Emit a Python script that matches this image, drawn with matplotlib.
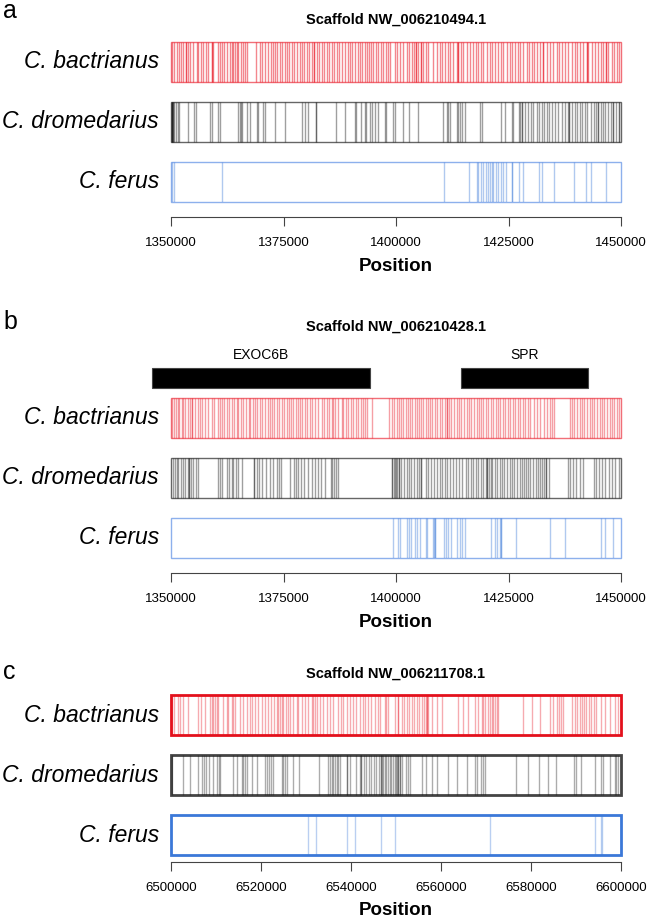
import matplotlib.pyplot as plt
from matplotlib.patches import Rectangle
from matplotlib.transforms import blended_transform_factory

plt.rcParams['font.family'] = ['Liberation Sans', 'DejaVu Sans']

species = ["C. bactrianus", "C. dromedarius", "C. ferus"]
panel_letters = ["a", "b", "c"]
scaffolds = ["Scaffold NW_006210494.1", "Scaffold NW_006210428.1", "Scaffold NW_006211708.1"]
ranges = [(1350000, 1450000), (1350000, 1450000), (6500000, 6600000)]
ticks_ab = [1350000, 1375000, 1400000, 1425000, 1450000]
ticks_c = [6500000, 6520000, 6540000, 6560000, 6580000, 6600000]

# SNP positions, panel a
a_bactrianus = [
    1350300, 1350740, 1351260, 1351780, 1352220, 1352740, 1353260, 1353260, 1353700, 1354220,
    1354960, 1355700, 1356070, 1356590, 1357180, 1357700, 1358150, 1359040, 1359040, 1359410,
    1360520, 1360890, 1361410, 1361850, 1362370, 1363110, 1363480, 1363850, 1364220, 1364590,
    1364960, 1365560, 1366070, 1366440, 1366810, 1368810, 1369780, 1370300, 1370890, 1371630,
    1372220, 1372740, 1373110, 1373480, 1374220, 1374590, 1375330, 1375700, 1376220, 1376810,
    1377410, 1377930, 1378670, 1379190, 1379630, 1380150, 1380670, 1381260, 1381850, 1381850,
    1382370, 1382890, 1383480, 1384070, 1384590, 1385110, 1385700, 1386300, 1386810, 1387330,
    1387930, 1388670, 1389260, 1389780, 1390300, 1390890, 1391480, 1392000, 1392520, 1393110,
    1393480, 1394000, 1394440, 1394960, 1395480, 1396070, 1396670, 1397180, 1397700, 1398150,
    1398670, 1399780, 1400150, 1400890, 1401630, 1402370, 1402890, 1403480, 1404070, 1404370,
    1404370, 1404960, 1405560, 1405560, 1406070, 1406590, 1407190, 1408300, 1409040, 1409780,
    1410300, 1410890, 1411480, 1412000, 1412740, 1413480, 1413850, 1413850, 1414440, 1414960,
    1415700, 1416440, 1417190, 1417700, 1418300, 1418890, 1419410, 1420150, 1420890, 1421410,
    1422000, 1422740, 1423330, 1423850, 1424590, 1425330, 1425850, 1426440, 1427040, 1427560,
    1428300, 1429040, 1429560, 1430150, 1430740, 1431260, 1432000, 1432740, 1432740, 1433480,
    1434220, 1434960, 1435700, 1436220, 1436810, 1437560, 1438300, 1439040, 1439780, 1440150,
    1440890, 1441630, 1442370, 1442370, 1442740, 1443480, 1444220, 1444960, 1445560, 1446070,
    1446590, 1446590, 1447190, 1447930, 1448520, 1449040, 1449560,
]
a_dromedarius = [
    1350150, 1350150, 1350300, 1350300, 1350520, 1350520, 1350740, 1351040, 1351480, 1351780,
    1353850, 1355180, 1355480, 1358660, 1359180, 1360510, 1360880, 1364950, 1365240, 1365540,
    1365840, 1366800, 1367540, 1369020, 1369390, 1370500, 1370870, 1373090, 1375310, 1379010,
    1379750, 1380340, 1382120, 1382120, 1386560, 1388630, 1390850, 1391220, 1392330, 1393070,
    1393440, 1394180, 1394700, 1395290, 1396030, 1397510, 1397880, 1399360, 1399730,
    1401630, 1402890, 1404810, 1410510, 1411250, 1411620, 1411990, 1413470, 1413840, 1414210,
    1414580, 1415320, 1418650, 1419170, 1423310, 1424200, 1425680, 1426050, 1427310, 1427530,
    1427900, 1427900, 1428640, 1429380, 1429970, 1430490, 1431230, 1431750, 1432340, 1432930,
    1433450, 1433970, 1434560, 1435300, 1436040, 1436780, 1437520, 1438260, 1438410, 1438410,
    1439000, 1439740, 1440330, 1440850, 1441370, 1441960, 1442550, 1443290, 1444030, 1444550,
    1444920, 1444920, 1445510, 1446030, 1446550, 1447140, 1447880, 1448250, 1448250, 1448990,
    1449510, 1449510,
]
a_ferus = [
    1350300, 1350740, 1361250, 1410740, 1416220, 1417920, 1418280, 1418870, 1419390, 1419910,
    1420350, 1420870, 1421240, 1421610, 1422130, 1422720, 1423310, 1423830, 1424350, 1425830,
    1425830, 1427310, 1428270, 1431750, 1432340, 1435150, 1439590, 1442330, 1443440, 1446770,
]

# SNP positions, panel b
b_bactrianus = [
    1350300, 1350740, 1351110, 1351480, 1351850, 1352370, 1352740, 1353110, 1353700, 1354220,
    1354590, 1354740, 1355330, 1355920, 1356440, 1356960, 1357550, 1358290, 1359030, 1359620,
    1360360, 1360880, 1361250, 1361840, 1362360, 1362880, 1363470, 1364060, 1364580, 1364950,
    1365540, 1366060, 1366580, 1367320, 1367540, 1368280, 1368650, 1369020, 1369760, 1370280,
    1370870, 1371460, 1371980, 1372500, 1372940, 1373460, 1373980, 1374570, 1375160, 1375680,
    1376200, 1376640, 1377160, 1377680, 1378120, 1378640, 1379160, 1379750, 1380270, 1380860,
    1381380, 1381970, 1382710, 1383450, 1384040, 1384560, 1385080, 1385670, 1386040, 1386410,
    1387150, 1387890, 1388260, 1388780, 1389370, 1389960, 1390480, 1391000, 1391590, 1392330,
    1392700, 1393070, 1393660, 1394700, 1398400, 1399170, 1399540, 1400130, 1400650, 1401020,
    1401610, 1402130, 1402650, 1403090, 1403610, 1404130, 1404570, 1405090, 1405610, 1406050,
    1406570, 1407090, 1407530, 1408050, 1408570, 1409160, 1409750, 1410270, 1410790, 1411230,
    1411230, 1411750, 1412270, 1412860, 1413450, 1413970, 1414490, 1415080, 1415670, 1416190,
    1416710, 1417300, 1417890, 1418410, 1418930, 1419370, 1419890, 1420410, 1421000, 1421590,
    1422330, 1422630, 1423220, 1423810, 1424330, 1424850, 1425440, 1426030, 1426550, 1427070,
    1427660, 1428250, 1428770, 1429290, 1429880, 1430620, 1431360, 1432100, 1432840, 1433580,
    1434170, 1434690, 1435210, 1438610, 1439130, 1439650, 1440240, 1440830, 1441350, 1441870,
    1442460, 1443050, 1443570, 1444090, 1444680, 1445270, 1445790, 1446310, 1446900, 1447490,
    1448010, 1448530, 1449120, 1449490,
]
b_dromedarius = [
    1350520, 1350890, 1351260, 1351630, 1352220, 1352740, 1353110, 1353700, 1354000, 1354000,
    1354440, 1354960, 1355480, 1355920, 1360360, 1360880, 1361250, 1362360, 1362880, 1363470,
    1363840, 1364360, 1364950, 1365690, 1368500, 1368500, 1369020, 1369540, 1370130, 1371020,
    1371980, 1372720, 1373460, 1373980, 1374420, 1376420, 1377380, 1377680, 1378270, 1378860,
    1379600, 1380490, 1381380, 1381970, 1382710, 1383300, 1384190, 1385520, 1385820, 1386260,
    1386560, 1387150, 1399140, 1399580, 1400100, 1400620, 1399170, 1399690, 1400130, 1400650,
    1401170, 1401760, 1402350, 1402870, 1403390, 1403980, 1404570, 1405090, 1405610, 1405610,
    1406570, 1407090, 1407680, 1408420, 1409160, 1409750, 1410270, 1410790, 1411380, 1411970,
    1412710, 1413230, 1413970, 1414710, 1415450, 1415970, 1416560, 1417150, 1417670, 1418190,
    1418780, 1419370, 1419890, 1420260, 1420260, 1420630, 1421000, 1421370, 1421890, 1422480,
    1423070, 1423590, 1424110, 1424700, 1425290, 1425810, 1426330, 1426920, 1427510, 1428030,
    1428400, 1428990, 1429290, 1429880, 1430470, 1431060, 1431510, 1432100, 1432470, 1432990,
    1433430, 1433430, 1433950, 1438170, 1438760, 1439350, 1440090, 1440830, 1441570, 1444090,
    1444530, 1445050, 1445790, 1446530, 1447270, 1448010, 1448750, 1449490,
]
b_ferus = [
    1399390, 1400430, 1400840, 1402500, 1402870, 1403390, 1404130, 1404720, 1405310, 1406570,
    1406940, 1408270, 1408420, 1408570, 1408570, 1410640, 1411010, 1411530, 1412120, 1413600,
    1414190, 1414710, 1415230, 1421000, 1422110, 1422480, 1423220, 1423370, 1423370, 1426770,
    1434320, 1437650, 1445570, 1446530, 1448230,
]
genes_b = ["EXOC6B", "SPR"]
gene_start_b = [1345700, 1414400]
gene_end_b = [1394200, 1442700]

# SNP positions, panel c
c_bactrianus = [
    6500300, 6500740, 6501480, 6502000, 6502740, 6503850, 6506070, 6506660, 6507550, 6508660,
    6509030, 6509400, 6509770, 6510140, 6510510, 6511620, 6512360, 6512730, 6513470, 6513840,
    6514210, 6515320, 6516060, 6516800, 6517540, 6518060, 6518650, 6519390, 6520130, 6520870,
    6521610, 6522200, 6522940, 6523460, 6523830, 6524200, 6524570, 6524940, 6525460, 6525900,
    6526420, 6527160, 6527900, 6528270, 6529010, 6529750, 6530490, 6531230, 6531600, 6531970,
    6532340, 6533080, 6533820, 6534560, 6535300, 6536040, 6537150, 6537740, 6538260, 6539000,
    6539740, 6540480, 6541220, 6541960, 6542700, 6543070, 6543810, 6544550, 6545290, 6546030,
    6546400, 6547510, 6547880, 6548250, 6549730, 6550470, 6550520, 6551260, 6551850, 6552370,
    6552890, 6553480, 6554070, 6554590, 6555110, 6555700, 6556290, 6556590, 6556810, 6556810,
    6557180, 6557920, 6559030, 6560140, 6563840, 6564950, 6566060, 6567540, 6568280, 6569020,
    6569390, 6569760, 6570500, 6570870, 6571240, 6571610, 6571980, 6572350, 6572720, 6578270,
    6580120, 6581970, 6584190, 6584930, 6585670, 6586190, 6586630, 6587150, 6589000, 6589740,
    6590330, 6590850, 6591370, 6591810, 6592330, 6592850, 6593440, 6594030, 6594550, 6595660,
    6596550, 6597510, 6598620, 6599360,
]
c_dromedarius = [
    6500300, 6502740, 6504220, 6506070, 6506960, 6507400, 6507700, 6508440, 6509400, 6510140,
    6510660, 6510880, 6513840, 6514580, 6515840, 6516060, 6516430, 6516800, 6518060, 6519020,
    6520870, 6521240, 6521760, 6522200, 6522720, 6524570, 6524940, 6525310, 6525680, 6527160,
    6528420, 6532860, 6534930, 6535300, 6535670, 6536040, 6536410, 6536780, 6537150, 6537520,
    6539000, 6539220, 6539740, 6541220, 6541960, 6542330, 6542330, 6542920, 6543440, 6543960,
    6544550, 6545140, 6545660, 6546180, 6546620, 6546620, 6546920, 6547140, 6547510, 6547880,
    6548250, 6548620, 6548990, 6549360, 6549730, 6550100, 6550470, 6550840, 6550150, 6550520,
    6550890, 6551410, 6552150, 6552590, 6553110, 6555700, 6556590, 6557920, 6559030, 6561620,
    6563470, 6565690, 6567540, 6567910, 6568870, 6569390, 6569760, 6576570, 6579230, 6581750,
    6583670, 6585450, 6589590, 6590110, 6591220, 6594180, 6595660, 6596030, 6597510, 6598620,
    6598990, 6599360,
]
c_ferus = [
    6530340, 6532120, 6539000, 6540850, 6546620, 6549880, 6570870, 6594180, 6595660, 6595810,
]

W, H = 647, 919
X0, X1 = 171, 621
fig = plt.figure(figsize=(W / 100, H / 100), dpi=100)


def fy(px):
    return 1 - px / H


def draw_panel(i, top, snps, ticks, axis_off, frame_lw, frame_cols, alphas, genes=None):
    lo, hi = ranges[i]
    extra = 30 if genes else 0
    height = 160 + extra
    ax = fig.add_axes([X0 / W, fy(top + height), (X1 - X0) / W, height / H])
    ax.set_xlim(lo, hi)
    ax.set_ylim(0, height)
    line_cols = ['#E8101E', '#111111', '#3A78D8']
    rows = [120, 60, 0]
    tr = blended_transform_factory(fig.transFigure, ax.transData)
    for name, pos, y0, lc, al, fc in zip(species, snps, rows, line_cols, alphas, frame_cols):
        ax.vlines(pos, y0, y0 + 40, colors=lc, alpha=al, lw=1.0)
        ax.add_patch(Rectangle((lo, y0), hi - lo, 40, fill=False, ec=fc,
                               lw=frame_lw, clip_on=False))
        ax.text(159 / W, y0 + 20, name, transform=tr, ha='right', va='center',
                fontsize=16.5, style='italic')
    if genes:
        names, starts, ends = genes
        for g, s, e in zip(names, starts, ends):
            ax.add_patch(Rectangle((s, 170), e - s, 20, fc='black', ec='#444444',
                                   lw=0.8, clip_on=False))
            ax.text((s + e) / 2, 203, g, ha='center', va='center', fontsize=10)
    for s in ['top', 'left', 'right']:
        ax.spines[s].set_visible(False)
    ax.spines['bottom'].set_position(('outward', axis_off))
    ax.spines['bottom'].set_bounds(ticks[0], ticks[-1])
    ax.spines['bottom'].set_color('#444444')
    ax.spines['bottom'].set_linewidth(0.8)
    ax.set_yticks([])
    ax.set_xticks(ticks)
    ax.set_xticklabels([str(t) for t in ticks])
    ax.tick_params(axis='x', direction='out', length=6.5, width=0.8, color='#444444',
                   labelsize=9.5, pad=8)
    ax.set_xlabel('Position', fontsize=13.5, fontweight='bold', labelpad=6)
    ax.patch.set_visible(False)
    return ax


thin_cols = [(0.91, 0.06, 0.12, 0.6), '#666666', '#8DB0EC']
thick_cols = ['#E3101C', '#444444', '#3B78D8']

draw_panel(0, 42, [a_bactrianus, a_dromedarius, a_ferus], ticks_ab, 11, 1.0, thin_cols,
           [0.5, 0.4, 0.4])
draw_panel(1, 368, [b_bactrianus, b_dromedarius, b_ferus], ticks_ab, 11, 1.0, thin_cols,
           [0.4, 0.4, 0.4], genes=(genes_b, gene_start_b, gene_end_b))
draw_panel(2, 695, [c_bactrianus, c_dromedarius, c_ferus], ticks_c, 5, 2.0, thick_cols,
           [0.35, 0.35, 0.35])

for letter, ly, title, ty in zip(panel_letters, [11, 322, 672], scaffolds, [20, 327, 674]):
    fig.text(3 / W, fy(ly), letter, fontsize=18, ha='left', va='center')
    fig.text(396 / W, fy(ty), title, fontsize=10.5, fontweight='bold', ha='center', va='center')

fig.savefig('out.png', dpi=100)
